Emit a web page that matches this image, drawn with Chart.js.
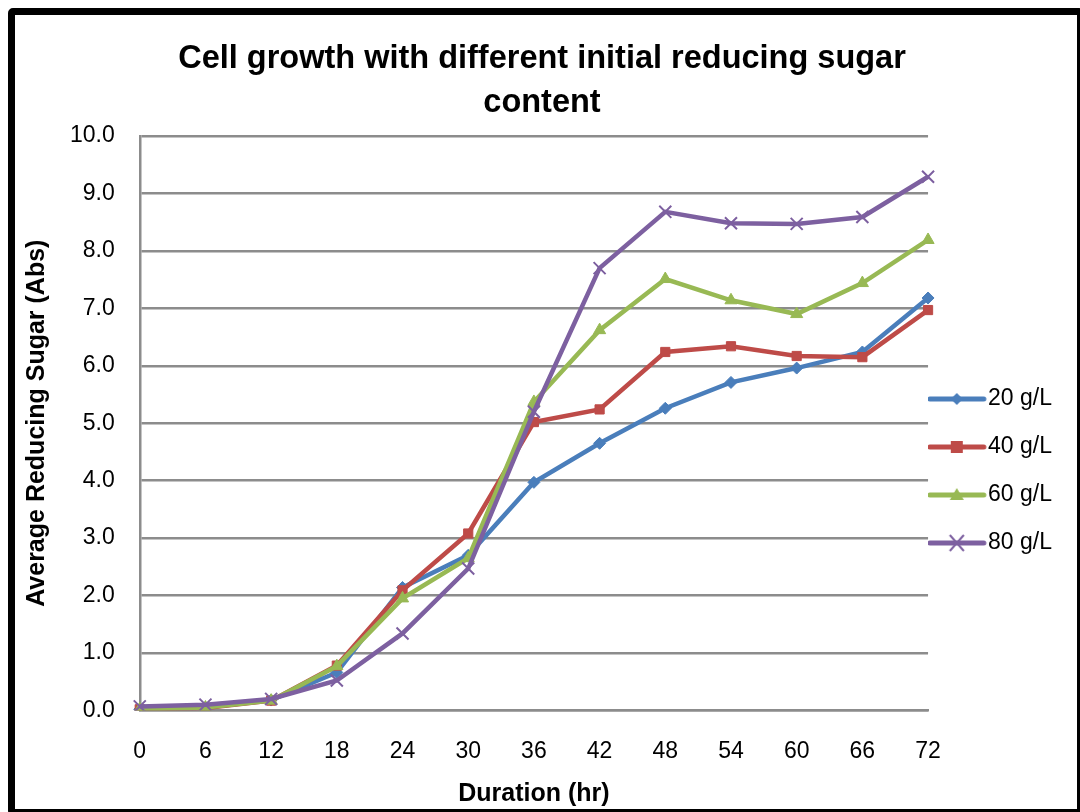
<!DOCTYPE html>
<html>
<head>
<meta charset="utf-8">
<script src="https://cdn.jsdelivr.net/npm/chart.js@4"></script>
<style>
  body { margin: 0; background: #fff; }
  #wrap { position: relative; width: 1080px; height: 812px; overflow: hidden; }
  #frame { position: absolute; left: 8px; top: 8px; width: 1062px; height: 794px; border: 7px solid #000; border-radius: 5px; pointer-events: none; }
</style>
</head>
<body>
<div id="wrap">
  <canvas id="CHARTAZUCAR" width="1080" height="812"></canvas>
  <div id="frame"></div>
</div>
<script>
const hours = ['0', '6', '12', '18', '24', '30', '36', '42', '48', '54', '60', '66', '72'];
const yTicks = [0, 1, 2, 3, 4, 5, 6, 7, 8, 9, 10];
const sugar20 = [0.02, 0.05, 0.18, 0.66, 2.14, 2.70, 3.97, 4.65, 5.26, 5.71, 5.96, 6.24, 7.18];
const sugar40 = [0.02, 0.04, 0.17, 0.78, 2.09, 3.08, 5.02, 5.24, 6.24, 6.34, 6.17, 6.15, 6.97];
const sugar60 = [0.02, 0.05, 0.17, 0.77, 1.95, 2.65, 5.37, 6.62, 7.51, 7.14, 6.90, 7.44, 8.19];
const sugar80 = [0.07, 0.10, 0.20, 0.52, 1.34, 2.47, 5.20, 7.70, 8.68, 8.48, 8.47, 8.59, 9.29];

const FONT = "'Liberation Sans', Arial, sans-serif";

// icono de leyenda: linea + marcador (el canvas es mas ancho para correrlo a la izquierda)
function iconoLeyenda(color, estilo) {
  const c = document.createElement('canvas');
  c.width = 100; c.height = 22;
  const g = c.getContext('2d');
  const cx = 42, cy = 11;
  g.strokeStyle = color; g.fillStyle = color;
  g.lineWidth = 5; g.lineCap = 'round';
  g.beginPath(); g.moveTo(15, cy); g.lineTo(69, cy); g.stroke();
  g.beginPath();
  if (estilo === 'rectRot') {
    g.moveTo(cx, cy - 6); g.lineTo(cx + 6, cy); g.lineTo(cx, cy + 6); g.lineTo(cx - 6, cy); g.closePath(); g.fill();
  } else if (estilo === 'rect') {
    g.fillRect(cx - 6, cy - 6, 12, 12);
  } else if (estilo === 'triangle') {
    g.moveTo(cx, cy - 7); g.lineTo(cx + 7, cy + 5); g.lineTo(cx - 7, cy + 5); g.closePath(); g.fill();
  } else {
    g.lineWidth = 2; g.lineCap = 'butt';
    g.moveTo(cx - 7, cy - 8); g.lineTo(cx + 7, cy + 8); g.moveTo(cx + 7, cy - 8); g.lineTo(cx - 7, cy + 8); g.stroke();
  }
  return c;
}

const ctx = document.getElementById('CHARTAZUCAR');

function serie(label, data, color, estilo, radio, orden) {
  return {
    label: label,
    data: data,
    borderColor: color,
    backgroundColor: color,
    borderWidth: 4.5,
    tension: 0,
    pointStyle: estilo,
    pointRadius: radio,
    pointBorderWidth: estilo === 'crossRot' ? 2 : 1,
    pointBackgroundColor: color,
    pointBorderColor: color,
    order: orden,
    icono: iconoLeyenda(color, estilo)
  };
}

new Chart(ctx, {
  type: 'line',
  data: {
    labels: hours,
    datasets: [
      serie('20 g/L', sugar20, '#4A7EBB', 'rectRot', 6, 4),
      serie('40 g/L', sugar40, '#BE4B48', 'rect', 6.5, 3),
      serie('60 g/L', sugar60, '#98B954', 'triangle', 7, 2),
      serie('80 g/L', sugar80, '#7D60A0', 'crossRot', 8.5, 1)
    ]
  },
  options: {
    responsive: false,
    animation: false,
    layout: { padding: { left: 22, right: 18, top: 35, bottom: 3 } },
    plugins: {
      title: {
        display: true,
        text: ['Cell growth with different initial reducing sugar', 'content'],
        color: '#000',
        font: { family: FONT, size: 32.5, weight: 'bold', lineHeight: 1.354 },
        padding: { top: 2, bottom: 11 }
      },
      legend: {
        position: 'right',
        title: { display: true, text: ' ', font: { size: 10 }, padding: { top: 86, bottom: 0 } },
        labels: {
          usePointStyle: true,
          boxWidth: 23.5,
          pointStyleWidth: 23.5,
          color: '#000',
          padding: 25,
          font: { family: FONT, size: 23 },
          sort: (a, b) => a.datasetIndex - b.datasetIndex,
          generateLabels: (chart) => {
            const items = Chart.defaults.plugins.legend.labels.generateLabels(chart);
            items.forEach(it => { it.pointStyle = chart.data.datasets[it.datasetIndex].icono; });
            return items;
          }
        }
      },
      tooltip: { enabled: false }
    },
    scales: {
      x: {
        grid: { display: true, drawOnChartArea: false, drawTicks: false },
        border: { display: true, color: '#8c8c8c', width: 2.5 },
        ticks: { color: '#000', padding: 27, font: { family: FONT, size: 23 }, maxRotation: 0 },
        title: {
          display: true, text: 'Duration (hr)', color: '#000',
          font: { family: FONT, size: 25, weight: 'bold' }, padding: { top: -13, bottom: 0 }
        }
      },
      y: {
        min: 0, max: 10,
        afterBuildTicks: (axis) => { axis.ticks = yTicks.map(v => ({ value: v })); },
        grid: { color: '#8c8c8c', lineWidth: 2.5, drawTicks: false },
        border: { display: true, color: '#8c8c8c', width: 2.5 },
        ticks: { color: '#000', padding: 25, font: { family: FONT, size: 23 }, callback: (v) => Number(v).toFixed(1) },
        title: {
          display: true, text: 'Average Reducing Sugar (Abs)', color: '#000',
          font: { family: FONT, size: 25, weight: 'bold' }, padding: { top: 0, bottom: -7 }
        }
      }
    }
  }
});
</script>
</body>
</html>
